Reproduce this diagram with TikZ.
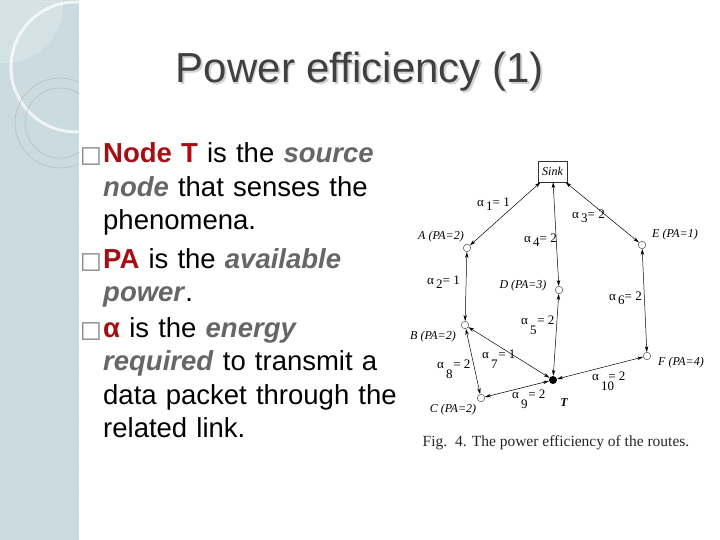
\documentclass[tikz,border=0pt]{standalone}
\usepackage{fontspec}
\setmainfont{Liberation Sans}
\newfontfamily\figfont{Liberation Serif}
\newfontfamily\symfont{DejaVu Sans}
\usetikzlibrary{arrows.meta, positioning, patterns}
\definecolor{cStrip}{RGB}{201,218,222}
\definecolor{cTitle}{RGB}{64,64,64}
\definecolor{cRed}{RGB}{165,15,20}
\definecolor{cGrey}{RGB}{102,102,102}
\tikzset{
	bodytext/.style={anchor=base west, inner sep=0pt, text width=300pt, align=left, font=\fontsize{27.5}{33.5}\selectfont},
	bullet/.style={anchor=base east, inner sep=0pt, text=gray, font=\symfont\fontsize{23}{23}\selectfont},
	% network figure styles
	pnode/.style={circle, draw=black!70, line width=0.5pt, minimum size=7.5pt, inner sep=0pt, fill=white},
	snode/.style={circle, fill=black, minimum size=8pt, inner sep=0pt},
	sinkbox/.style={rectangle, draw=black!80, line width=0.5pt, minimum width=29pt, minimum height=21pt, inner sep=0pt, font=\figfont\itshape\fontsize{12}{12}\selectfont},
	nlabel/.style={inner sep=0pt, font=\figfont\itshape\fontsize{12}{12}\selectfont},
	alabel/.style={anchor=west, inner sep=0pt, font=\figfont\fontsize{13}{13}\selectfont},
	link/.style={<->, >={Stealth[length=6pt, width=3.5pt]}, line width=0.5pt},
}
\newcommand{\redw}[1]{\textcolor{cRed}{\textbf{#1}}}
\newcommand{\greyw}[1]{\textcolor{cGrey}{\textbf{\textit{#1}}}}
\newcommand{\alf}[2]{α\raisebox{-0.6ex}{\,#1}= #2}
\newcommand{\alfl}[2]{α\makebox[0.55em][l]{\raisebox{-1.7ex}{\,#1}}\,= #2}

\begin{document}
\begin{tikzpicture}[x=1pt, y=-1pt]
	\useasboundingbox (0,0) rectangle (720,540);
	\fill[white] (0,0) rectangle (720,540);
	% left strip
	\fill[cStrip] (0,0) rectangle (79,540);
	\fill[pattern=crosshatch dots, pattern color=white, opacity=0.25] (0,0) rectangle (79,540);
	\begin{scope}
		\clip (0,0) rectangle (79,540);
		\fill[white, opacity=0.2] (5,5) circle (58);
		\draw[white, line width=3pt, opacity=0.7] (76,67) circle (65);
		\draw[gray!55, line width=0.5pt] (60,123) circle (45);
		\draw[gray!55, line width=0.5pt] (60,123) circle (35);
	\end{scope}

	% title
	\node[anchor=base, inner sep=0pt, text=gray!35, font=\fontsize{42}{42}\selectfont] (tshadow) at (361.5,84.5) {Power efficiency (1)};
	\node[anchor=base, inner sep=0pt, text=cTitle, font=\fontsize{42}{42}\selectfont] (title) at (360,83) {Power efficiency (1)};

	% bullets
	\node[bodytext] (p1) at (103,163) {\redw{Node T} is the \greyw{source}\\ \greyw{node} that senses the\\ phenomena.};
	\node[bodytext] (p2) at (103,268) {\redw{PA} is the \greyw{available}\\ \greyw{power}.};
	\node[bodytext] (p3) at (103,337) {\redw{α} is the \greyw{energy}\\ \greyw{required} to transmit a\\ data packet through the\\ related link.};
	\node[bullet] (b1) at ([xshift=-1pt]p1.base west) {□};
	\node[bullet] (b2) at ([xshift=-1pt]p2.base west) {□};
	\node[bullet] (b3) at ([xshift=-1pt]p3.base west) {□};

	% network
	\node[sinkbox] (sink) at (552.5,171.5) {Sink};
	\node[pnode] (a) at (467,248) {};
	\node[pnode] (e) at (642,245) {};
	\node[pnode] (d) at (559,290) {};
	\node[pnode] (b) at (465,325) {};
	\node[pnode] (f) at (647,356) {};
	\node[pnode] (c) at (481,398) {};
	\node[snode] (t) at (553,380) {};

	\node[nlabel] (la) at (441,237) {A (PA=2)};
	\node[nlabel] (le) at (675,235) {E (PA=1)};
	\node[nlabel] (ld) at (523,286) {D (PA=3)};
	\node[nlabel] (lb) at (433,337) {B (PA=2)};
	\node[nlabel] (lf) at (681,363) {F (PA=4)};
	\node[nlabel] (lc) at (453,410) {C (PA=2)};
	\node[nlabel] (lt) at (564,403) {\textbf{T}};

	\draw[link] (sink) -- (a);
	\draw[link] (sink) -- (d);
	\draw[link] (sink) -- (e);
	\draw[link] (a) -- (b);
	\draw[link] (e) -- (f);
	\draw[link] (d) -- (t);
	\draw[link] (b) -- (t);
	\draw[link] (b) -- (c);
	\draw[link] (c) -- (t);
	\draw[link] (f) -- (t);

	\node[alabel] (w1) at (477,204) {\alf{1}{1}};
	\node[alabel] (w2) at (427,282) {\alf{2}{1}};
	\node[alabel] (w3) at (572,216) {\alf{3}{2}};
	\node[alabel] (w4) at (524,240) {\alf{4}{2}};
	\node[alabel] (w5) at (521,325) {\alfl{5}{2}};
	\node[alabel] (w6) at (609,298) {\alf{6}{2}};
	\node[alabel] (w7) at (482,359) {\alfl{7}{1}};
	\node[alabel] (w8) at (437,369) {\alfl{8}{2}};
	\node[alabel] (w9) at (512,399) {\alfl{9}{2}};
	\node[alabel] (w10) at (592,381) {\alfl{10}{2}};

	\node[inner sep=0pt, text=black!85, font=\figfont\fontsize{15.5}{15.5}\selectfont] (cap) at (556,443) {Fig.\enspace 4. The power efficiency of the routes.};
\end{tikzpicture}
\end{document}
